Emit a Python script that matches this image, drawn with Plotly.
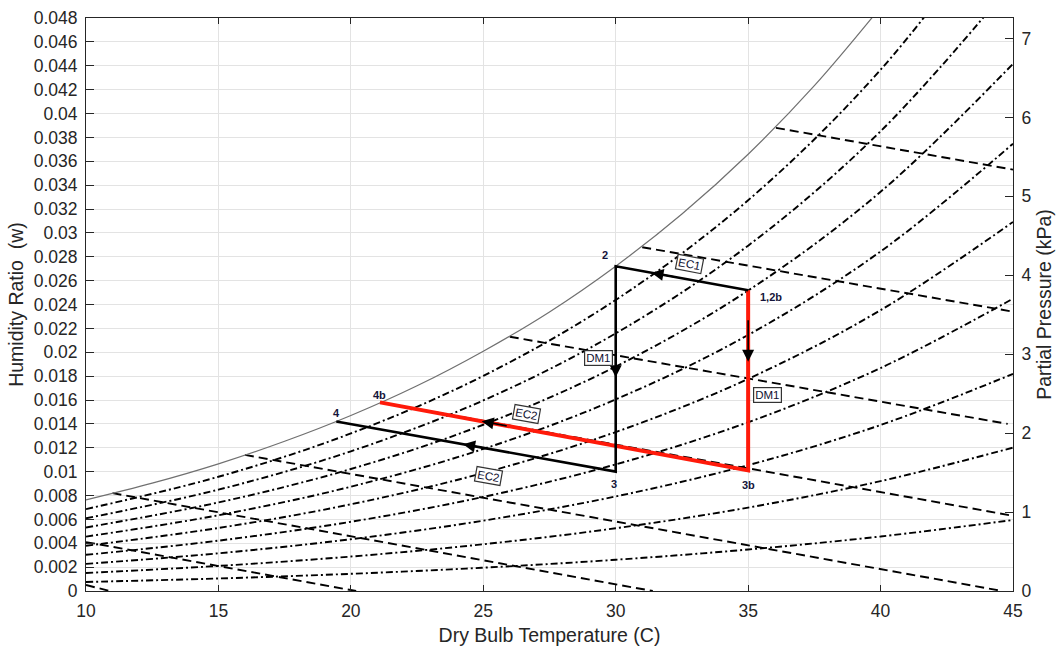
import plotly.graph_objects as go

# ---------------- data ----------------
# Saturation curve (100 % RH)
T_sat = [10, 12.5, 15, 17.5, 20, 22.5, 25, 27.5, 30, 32.5, 35, 37.5, 40]
w_sat = [0.00763, 0.00903, 0.01065, 0.01254, 0.01470, 0.01719, 0.02009,
         0.02338, 0.02721, 0.03158, 0.03659, 0.04233, 0.04890]

# Relative-humidity curves (90 % ... 10 %)
T_rh = [10, 15, 20, 25, 30, 35, 40, 45]
w_rh90 = [0.006861, 0.009569, 0.013198, 0.018020, 0.024383, 0.032736, 0.043666, 0.057951]
w_rh80 = [0.006091, 0.008491, 0.011704, 0.015966, 0.021580, 0.028930, 0.038513, 0.050984]
w_rh70 = [0.005323, 0.007417, 0.010217, 0.013926, 0.018801, 0.025167, 0.033440, 0.044159]
w_rh60 = [0.004557, 0.006347, 0.008737, 0.011898, 0.016046, 0.021448, 0.028445, 0.037470]
w_rh50 = [0.003793, 0.005280, 0.007264, 0.009884, 0.013314, 0.017771, 0.023525, 0.030915]
w_rh40 = [0.003031, 0.004217, 0.005797, 0.007882, 0.010606, 0.014136, 0.018679, 0.024489]
w_rh30 = [0.002270, 0.003157, 0.004338, 0.005893, 0.007921, 0.010542, 0.013904, 0.018187]
w_rh20 = [0.001512, 0.002101, 0.002885, 0.003916, 0.005258, 0.006989, 0.009201, 0.012008]
w_rh10 = [0.000755, 0.001049, 0.001439, 0.001952, 0.002618, 0.003475, 0.004567, 0.005947]
rh_curves = [w_rh90, w_rh80, w_rh70, w_rh60, w_rh50, w_rh40, w_rh30, w_rh20, w_rh10]

# Wet-bulb lines (start / end points)
wb_T_start = [10.0, 10.0, 11.0, 16.0, 21.1, 26.0, 31.0, 36.05]
wb_w_start = [0.0005, 0.0041, 0.0082, 0.0114, 0.0158, 0.0213, 0.0288, 0.0388]
wb_T_end = [10.9, 20.2, 31.4, 44.6, 45.0, 44.8, 45.0, 45.0]
wb_w_end = [0.0, 0.0, 0.0, 0.0, 0.0063, 0.0140, 0.0234, 0.0353]

# Cycle paths
black_T = [35, 30, 30, 19.45]
black_w = [0.0252, 0.0272, 0.0100, 0.0142]
red_T = [35, 35, 21.1]
red_w = [0.0252, 0.0101, 0.0158]

# Arrowheads: tip and tail
arrow_tip_T = [31.35, 24.24, 24.94, 30.0, 35.0]
arrow_tip_w = [0.02666, 0.01229, 0.01422, 0.0179, 0.0192]
arrow_tail_T = [32.35, 25.24, 25.94, 30.0, 35.0]
arrow_tail_w = [0.02626, 0.01189, 0.01381, 0.0196, 0.0228]

# Point labels
pt_text = ["2", "1,2b", "3", "3b", "4b", "4"]
pt_T = [29.59, 35.37, 29.93, 35.03, 21.10, 19.44]
pt_w = [0.02815, 0.02465, 0.00896, 0.00888, 0.01642, 0.01491]
pt_anchor = ["center", "left", "center", "center", "center", "center"]

# Process labels
proc_text = ["EC1", "DM1", "DM1", "EC2", "EC2"]
proc_T = [32.80, 29.34, 35.73, 26.64, 25.19]
proc_w = [0.02739, 0.01949, 0.01642, 0.01483, 0.00963]
proc_angle = [11, 0, 0, 10, 10]

# Axes ticks
w_ticks = [0, 0.002, 0.004, 0.006, 0.008, 0.01, 0.012, 0.014, 0.016, 0.018,
           0.02, 0.022, 0.024, 0.026, 0.028, 0.03, 0.032, 0.034, 0.036,
           0.038, 0.04, 0.042, 0.044, 0.046, 0.048]
w_tick_labels = ["0", "0.002", "0.004", "0.006", "0.008", "0.01", "0.012",
                 "0.014", "0.016", "0.018", "0.02", "0.022", "0.024", "0.026",
                 "0.028", "0.03", "0.032", "0.034", "0.036", "0.038", "0.04",
                 "0.042", "0.044", "0.046", "0.048"]
T_ticks = [10, 15, 20, 25, 30, 35, 40, 45]
p_ticks = [0, 1, 2, 3, 4, 5, 6, 7]
p_max = 7.26

# ---------------- figure ----------------
FONT = "Liberation Sans, Arial, Helvetica, sans-serif"
fig = go.Figure()

for w in rh_curves:
    fig.add_trace(go.Scatter(x=T_rh, y=w, mode="lines", line_shape="spline",
                             line=dict(color="black", width=1.9, dash="7px,3px,2px,3px"),
                             hoverinfo="skip", showlegend=False))

for i in range(len(wb_T_start)):
    fig.add_trace(go.Scatter(x=[wb_T_start[i], wb_T_end[i]], y=[wb_w_start[i], wb_w_end[i]],
                             mode="lines",
                             line=dict(color="black", width=1.9, dash="9px,5px"),
                             hoverinfo="skip", showlegend=False))

fig.add_trace(go.Scatter(x=T_sat, y=w_sat, mode="lines", line_shape="spline",
                         line=dict(color="#707070", width=1.2),
                         hoverinfo="skip", showlegend=False))

fig.add_trace(go.Scatter(x=red_T, y=red_w, mode="lines",
                         line=dict(color="#ff1a0a", width=4),
                         hoverinfo="skip", showlegend=False))
fig.add_trace(go.Scatter(x=black_T, y=black_w, mode="lines",
                         line=dict(color="black", width=2.6),
                         hoverinfo="skip", showlegend=False))

# dummy trace for right axis
fig.add_trace(go.Scatter(x=[T_ticks[-1]], y=[p_ticks[0]], yaxis="y2", mode="markers",
                         marker=dict(opacity=0), hoverinfo="skip", showlegend=False))

for i in range(len(arrow_tip_T)):
    fig.add_annotation(x=arrow_tip_T[i], y=arrow_tip_w[i], ax=arrow_tail_T[i], ay=arrow_tail_w[i],
                       xref="x", yref="y", axref="x", ayref="y", text="",
                       showarrow=True, arrowhead=2, arrowsize=1.5, arrowwidth=1.6,
                       arrowcolor="black")

for i in range(len(pt_text)):
    fig.add_annotation(x=pt_T[i], y=pt_w[i], text="<b>" + pt_text[i] + "</b>",
                       showarrow=False, xanchor=pt_anchor[i], yanchor="middle",
                       font=dict(family=FONT, size=11, color="#14143a"))

for i in range(len(proc_text)):
    fig.add_annotation(x=proc_T[i], y=proc_w[i], text=proc_text[i], showarrow=False,
                       textangle=proc_angle[i], bgcolor="white", bordercolor="#333",
                       borderwidth=1.2, borderpad=1,
                       font=dict(family=FONT, size=11.5, color="#101030"))

axis_font = dict(family=FONT, size=17.5, color="#262626")
title_font = dict(family=FONT, size=19.5, color="#262626")

fig.update_layout(
    width=1060, height=648,
    margin=dict(l=86, r=47, t=18, b=57, autoexpand=False),
    paper_bgcolor="white", plot_bgcolor="white",
    showlegend=False,
    xaxis=dict(range=[10, 45], tickvals=T_ticks, ticks="inside", ticklen=6,
               tickcolor="#262626", showline=True, linecolor="#262626", linewidth=1,
               mirror="ticks", showgrid=True, gridcolor="#e3e3e3", gridwidth=1,
               zeroline=False, tickfont=axis_font, ticklabelstandoff=4, automargin=False,
               title=dict(text="Dry Bulb Temperature (C)", font=title_font, standoff=8)),
    yaxis=dict(range=[0, 0.048], tickvals=w_ticks, ticktext=w_tick_labels,
               ticks="inside", ticklen=8, tickcolor="#262626", showline=True,
               linecolor="#262626", linewidth=1, mirror=True, showgrid=True,
               gridcolor="#e3e3e3", gridwidth=1, zeroline=False, tickfont=axis_font,
               ticklabelstandoff=4, automargin=False,
               title=dict(text="Humidity Ratio  (w)", font=title_font, standoff=4)),
    yaxis2=dict(range=[0, p_max], tickvals=p_ticks, overlaying="y", side="right",
                ticks="inside", ticklen=8, tickcolor="#262626", showline=True,
                linecolor="#262626", linewidth=1, showgrid=False, zeroline=False,
                tickfont=axis_font, ticklabelstandoff=4, automargin=False,
                title=dict(text="Partial Pressure (kPa)", font=title_font, standoff=6)),
)

fig.write_html("out.html")
